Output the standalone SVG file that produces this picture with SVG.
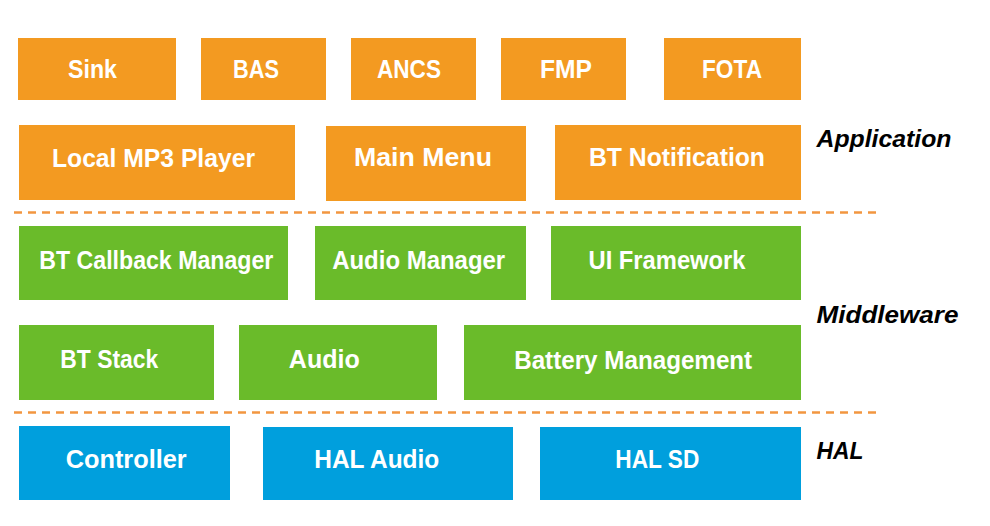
<svg xmlns="http://www.w3.org/2000/svg" width="990" height="526" viewBox="0 0 990 526">
  <style>
    .app { fill: #F39A21; }
    .mid { fill: #6ABB2A; }
    .hal { fill: #009FDD; }
    .lbl { font-family: "Liberation Sans", Arial, sans-serif; font-weight: bold; font-size: 25px; fill: #FFFFFF; text-anchor: middle; }
    .layer { font-family: "Liberation Sans", Arial, sans-serif; font-weight: bold; font-style: italic; font-size: 24.5px; fill: #000000; }
    .sep { stroke: #F29640; stroke-width: 2.5; stroke-dasharray: 8 6; fill: none; }
  </style>
  <rect width="990" height="526" fill="#FFFFFF"/>

  <!-- layer separators -->
  <g id="separators">
    <line class="sep" x1="14" y1="212.5" x2="876" y2="212.5"/>
    <line class="sep" x1="14" y1="412.5" x2="876" y2="412.5"/>
  </g>

  <!-- application layer -->
  <g id="sink"><rect class="app" x="18" y="38" width="158" height="62"/><text class="lbl" x="92.5" y="78" textLength="49" lengthAdjust="spacingAndGlyphs">Sink</text></g>
  <g id="bas"><rect class="app" x="201" y="38" width="125" height="62"/><text class="lbl" x="256" y="78" textLength="46" lengthAdjust="spacingAndGlyphs">BAS</text></g>
  <g id="ancs"><rect class="app" x="351" y="38" width="125" height="62"/><text class="lbl" x="409" y="78" textLength="64" lengthAdjust="spacingAndGlyphs">ANCS</text></g>
  <g id="fmp"><rect class="app" x="501" y="38" width="125" height="62"/><text class="lbl" x="566" y="78" textLength="52" lengthAdjust="spacingAndGlyphs">FMP</text></g>
  <g id="fota"><rect class="app" x="664" y="38" width="137" height="62"/><text class="lbl" x="732" y="78" textLength="60" lengthAdjust="spacingAndGlyphs">FOTA</text></g>
  <g id="local-mp3-player"><rect class="app" x="19" y="125" width="276" height="75"/><text class="lbl" x="153.5" y="167" textLength="203" lengthAdjust="spacingAndGlyphs">Local MP3  Player</text></g>
  <g id="main-menu"><rect class="app" x="326" y="126" width="200" height="75"/><text class="lbl" x="423" y="166" textLength="138" lengthAdjust="spacingAndGlyphs">Main Menu</text></g>
  <g id="bt-notification"><rect class="app" x="555" y="125" width="246" height="75"/><text class="lbl" x="677" y="166" textLength="176" lengthAdjust="spacingAndGlyphs">BT Notification</text></g>

  <!-- middleware layer -->
  <g id="bt-callback-manager"><rect class="mid" x="19" y="226" width="269" height="74"/><text class="lbl" x="156.3" y="269" textLength="234" lengthAdjust="spacingAndGlyphs">BT Callback Manager</text></g>
  <g id="audio-manager"><rect class="mid" x="315" y="226" width="211" height="74"/><text class="lbl" x="418.7" y="269" textLength="173" lengthAdjust="spacingAndGlyphs">Audio Manager</text></g>
  <g id="ui-framework"><rect class="mid" x="551" y="226" width="250" height="74"/><text class="lbl" x="667" y="269" textLength="157" lengthAdjust="spacingAndGlyphs">UI Framework</text></g>
  <g id="bt-stack"><rect class="mid" x="19" y="325" width="195" height="75"/><text class="lbl" x="109.3" y="368" textLength="98" lengthAdjust="spacingAndGlyphs">BT Stack</text></g>
  <g id="audio"><rect class="mid" x="239" y="325" width="198" height="75"/><text class="lbl" x="324.3" y="368" textLength="71" lengthAdjust="spacingAndGlyphs">Audio</text></g>
  <g id="battery-management"><rect class="mid" x="464" y="325" width="337" height="75"/><text class="lbl" x="633.2" y="369.3" textLength="238" lengthAdjust="spacingAndGlyphs">Battery Management</text></g>

  <!-- hardware abstraction layer -->
  <g id="controller"><rect class="hal" x="19" y="426" width="211" height="74"/><text class="lbl" x="126.2" y="467.7" textLength="121" lengthAdjust="spacingAndGlyphs">Controller</text></g>
  <g id="hal-audio"><rect class="hal" x="263" y="427" width="250" height="73"/><text class="lbl" x="376.8" y="467.7" textLength="125" lengthAdjust="spacingAndGlyphs">HAL Audio</text></g>
  <g id="hal-sd"><rect class="hal" x="540" y="427" width="261" height="73"/><text class="lbl" x="657.3" y="467.7" textLength="84" lengthAdjust="spacingAndGlyphs">HAL SD</text></g>

  <!-- layer names -->
  <g id="layer-names">
    <text class="layer" x="816.5" y="147" textLength="135" lengthAdjust="spacingAndGlyphs">Application</text>
    <text class="layer" x="816.5" y="322.7" textLength="142" lengthAdjust="spacingAndGlyphs">Middleware</text>
    <text class="layer" x="816.5" y="459.3" textLength="47" lengthAdjust="spacingAndGlyphs">HAL</text>
  </g>
</svg>
